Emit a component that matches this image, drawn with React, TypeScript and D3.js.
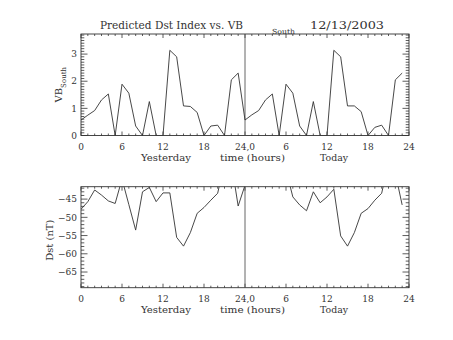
import React from "react";
import * as d3 from "d3";

const hours = [0,1,2,3,4,5,6,7,8,9,10,11,12,13,14,15,16,17,18,19,20,21,22,23];
const vbYesterday = [0.57,0.75,0.92,1.31,1.53,0,1.89,1.56,0.35,0,1.25,0,0,3.14,2.9,1.09,1.07,0.85,0,0.35,0.38,0,2.05,2.3];
const vbToday = [0.57,0.76,0.92,1.31,1.53,0,1.89,1.56,0.35,0,1.25,0,0,3.14,2.9,1.09,1.09,0.88,0,0.3,0.38,0,2.05,2.3];
const dstYesterday = [-47.8,-45.7,-42.5,-43.9,-45.5,-46.2,-39.5,-46.5,-53.5,-43.0,-41.8,-45.7,-43.3,-43.3,-55.5,-57.9,-54.2,-48.9,-47.3,-45.3,-43.4,-35,-35,-46.9];
const dstToday = [-41.2,-40,-39.5,-40,-40.5,-40,-37,-44.4,-46.6,-48.2,-43.0,-46.0,-44.4,-42.3,-55.1,-57.9,-54.2,-48.9,-47.6,-45.3,-43.4,-35,-37.9,-46.6];

const xTickValues = [0,6,12,18,24,30,36,42,48];
const xTickLabels = ["0","6","12","18","24,0","6","12","18","24"];
const vbTicks = [0,1,2,3];
const dstTicks = [-45,-50,-55,-60,-65];

const FONT = "DejaVu Serif";
const INK = "#333";
const LINE = "#333";

const L = 81, R = 409;

function Axes({ y, top, bottom, ticks, minorStep, domain, clipId }: any) {
  const x = d3.scaleLinear().domain([0, 48]).range([L, R]);
  const els: any[] = [];
  for (let h = 0; h <= 48; h++) {
    const major = h % 6 === 0;
    const len = major ? 4 : 2;
    const xp = x(h);
    els.push(<line key={"xb" + h} x1={xp} x2={xp} y1={bottom} y2={bottom - len} stroke={LINE} strokeWidth={0.8} />);
    els.push(<line key={"xt" + h} x1={xp} x2={xp} y1={top} y2={top + len} stroke={LINE} strokeWidth={0.8} />);
  }
  const [d0, d1] = domain;
  const start = Math.ceil(d0 / minorStep - 1e-6);
  const end = Math.floor(d1 / minorStep + 1e-6);
  for (let i = start; i <= end; i++) {
    const v = i * minorStep;
    const isMajor = ticks.some((t: number) => Math.abs(t - v) < 1e-6);
    const len = isMajor ? 6.5 : 3.3;
    const yp = y(v);
    els.push(<line key={"yl" + i} x1={L} x2={L + len} y1={yp} y2={yp} stroke={LINE} strokeWidth={0.8} />);
    els.push(<line key={"yr" + i} x1={R} x2={R - len} y1={yp} y2={yp} stroke={LINE} strokeWidth={0.8} />);
  }
  return (
    <g>
      <rect x={L} y={top} width={R - L} height={bottom - top} fill="none" stroke={LINE} strokeWidth={0.9} />
      {els}
      <line x1={x(24)} x2={x(24)} y1={top} y2={bottom} stroke="#555" strokeWidth={0.9} />
      {xTickValues.map((t, i) => (
        <text key={"xl" + i} x={x(t)} y={bottom + 14.5} textAnchor="middle" fontFamily={FONT} fontSize={9} fill={INK}>{xTickLabels[i]}</text>
      ))}
      {ticks.map((t: number) => (
        <text key={"yt" + t} x={L - 4} y={y(t) + 3.2} textAnchor="end" fontFamily={FONT} fontSize={9} fill={INK}>{t < 0 ? "\u2212" + Math.abs(t) : t}</text>
      ))}
      <text x={166} y={bottom + 25.5} textAnchor="middle" fontFamily={FONT} fontSize={9.5} fill={INK} textLength={50} lengthAdjust="spacingAndGlyphs">Yesterday</text>
      <text x={252.5} y={bottom + 25.5} textAnchor="middle" fontFamily={FONT} fontSize={9.5} fill={INK} textLength={65} lengthAdjust="spacingAndGlyphs">time (hours)</text>
      <text x={334} y={bottom + 25.5} textAnchor="middle" fontFamily={FONT} fontSize={9.5} fill={INK} textLength={28} lengthAdjust="spacingAndGlyphs">Today</text>
      <clipPath id={clipId}><rect x={L} y={top} width={R - L} height={bottom - top} /></clipPath>
    </g>
  );
}

export default function App() {
  const x = d3.scaleLinear().domain([0, 48]).range([L, R]);
  const allHours = [...hours, ...hours.map((h) => h + 24)];

  const topT = 34, topB = 135.5;
  const yTop = d3.scaleLinear().domain([0, 3.74]).range([topB, topT]);
  const vbAll = [...vbYesterday, ...vbToday];
  const vbLine = d3.line<number>().x((_, i) => x(allHours[i])).y((d) => yTop(d))(vbAll) || "";

  const botT = 186.7, botB = 287.7;
  const yBot = d3.scaleLinear().domain([-69.3, -41.6]).range([botB, botT]);
  const dstAll = [...dstYesterday, ...dstToday];
  const dstLine = d3.line<number>().x((_, i) => x(allHours[i])).y((d) => yBot(d))(dstAll) || "";

  return (
    <svg width={453} height={340} style={{ position: "absolute", left: 0, top: 0, display: "block", background: "#fff" }}>
      <rect x={0} y={0} width={453} height={340} fill="#fff" />
      <text x={100} y={29} fontFamily={FONT} fontSize={11.5} fill={INK} textLength={143} lengthAdjust="spacingAndGlyphs">Predicted Dst Index vs. VB</text>
      <text x={272} y={33.5} fontFamily={FONT} fontSize={7} fill={INK} textLength={23} lengthAdjust="spacingAndGlyphs">South</text>
      <text x={310} y={29} fontFamily={FONT} fontSize={11.5} fill={INK} textLength={74} lengthAdjust="spacingAndGlyphs">12/13/2003</text>

      <Axes y={yTop} top={topT} bottom={topB} ticks={vbTicks} minorStep={0.1} domain={[0, 3.74]} clipId="clipTop" />
      <path d={vbLine} fill="none" stroke={LINE} strokeWidth={0.9} clipPath="url(#clipTop)" />
      <g transform={`translate(62, ${(topT + topB) / 2}) rotate(-90)`}>
        <text x={0} y={0} textAnchor="middle" fontFamily={FONT} fontSize={10} fill={INK}>
          <tspan>VB</tspan>
          <tspan fontSize={7} dy={3.5}>South</tspan>
        </text>
      </g>

      <Axes y={yBot} top={botT} bottom={botB} ticks={dstTicks} minorStep={1} domain={[-69.3, -41.6]} clipId="clipBot" />
      <path d={dstLine} fill="none" stroke={LINE} strokeWidth={0.9} clipPath="url(#clipBot)" />
      <g transform={`translate(53, ${(botT + botB) / 2 + 3}) rotate(-90)`}>
        <text x={0} y={0} textAnchor="middle" fontFamily={FONT} fontSize={10} fill={INK}>Dst (nT)</text>
      </g>
    </svg>
  );
}
